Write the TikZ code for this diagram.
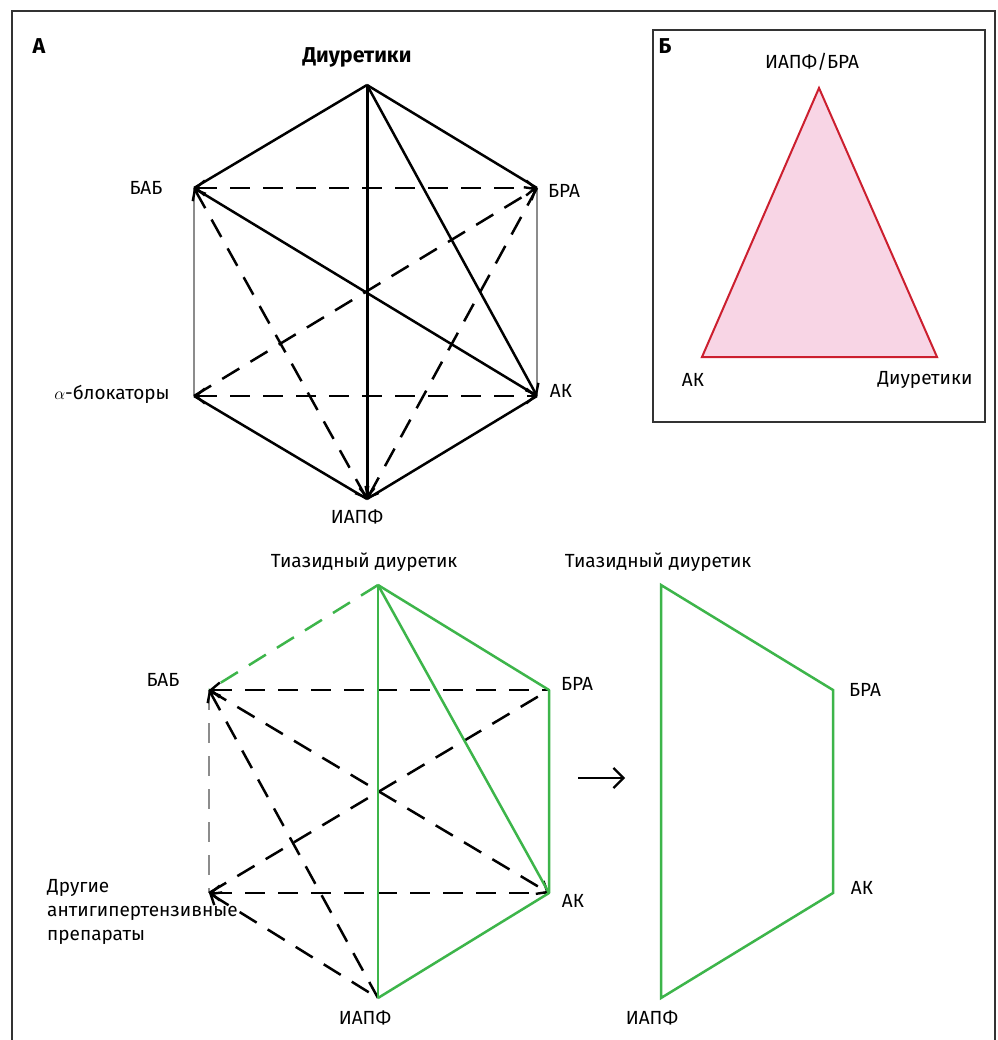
\documentclass[tikz,border=0pt]{standalone}
\usepackage{fontspec}
\setmainfont{Fira Sans}
\usetikzlibrary{arrows.meta}
\definecolor{grn}{HTML}{3DB54A}
\definecolor{redl}{HTML}{CC1F2F}
\definecolor{pinkf}{HTML}{F8D5E5}
\definecolor{gry}{HTML}{8C8C8C}
\definecolor{frm}{HTML}{333333}
\begin{document}
\begin{tikzpicture}[x=1pt,y=-1pt,
  ln/.style={line width=2.5pt, line join=round, line cap=butt},
  dsh/.style={ln, dash pattern=on 20pt off 13pt},
  tipa/.style={-{Straight Barb[length=9pt,width=15pt,line width=2.4pt]}},
  tipb/.style={{Straight Barb[length=9pt,width=15pt,line width=2.4pt]}-},
  tipab/.style={{Straight Barb[length=9pt,width=15pt,line width=2.4pt]}-{Straight Barb[length=9pt,width=15pt,line width=2.4pt]}},
  lbl/.style={font=\fontsize{19}{24}\selectfont, inner sep=0pt},
  bold/.style={font=\fontsize{21.5}{24}\selectfont\bfseries, inner sep=0pt}]
\useasboundingbox (0,0) rectangle (997,1040);
\fill[white] (0,0) rectangle (997,1040);
\draw[frm, line width=1.3pt] (12,11) rectangle (995,1060);

% ---------- Panel A top hexagon ----------
\coordinate (tD) at (367,85);
\coordinate (bab) at (194,188);
\coordinate (bra) at (537,188);
\coordinate (alf) at (194,396);
\coordinate (ak) at (537,396);
\coordinate (iapf) at (367,499);

\draw[ln, gry] (bab) -- (alf);
\draw[ln, gry] (bra) -- (ak);

\draw[dsh, tipab] (bab) -- (bra);
\draw[dsh, tipab] (alf) -- (ak);
\draw[dsh, tipab] (bab) -- (iapf);
\draw[dsh, tipa] (alf) -- (bra);
\draw[dsh, tipa] (bra) -- (iapf);

\draw[ln] (tD) -- (bab);
\draw[ln] (tD) -- (bra);
\draw[ln] (alf) -- (iapf);
\draw[ln] (ak) -- (iapf);
\draw[ln] (bab) -- (ak);
\draw[ln, tipa] (tD) -- (ak);
\draw[ln, line width=3pt, tipa] (tD) -- (iapf);

\node[bold] (lA) at (39,46) {А};
\node[bold] (ltD) at (357,57) {Диуретики};
\node[lbl] (lbab) at (146,188) {БАБ};
\node[lbl] (lbra) at (564,191) {БРА};
\node[lbl] (lalf) at (112,394) {$\alpha$-блокаторы};
\node[lbl] (lak) at (561,391) {АК};
\node[lbl] (liapf) at (357,517) {ИАПФ};

% ---------- Panel B ----------
\draw[frm, line width=1.3pt] (653,30) rectangle (985,422);
\coordinate (bt) at (819,88);
\coordinate (bl) at (702,357);
\coordinate (br) at (937,357);
\draw[redl, fill=pinkf, line width=2pt, line join=miter] (bt) -- (bl) -- (br) -- cycle;
\node[bold] (lB) at (665,46) {Б};
\node[lbl] (lbt) at (812,62) {ИАПФ/БРА};
\node[lbl] (lbl) at (693,380) {АК};
\node[lbl] (lbr) at (925,380) {Диуретики};

% ---------- Bottom hexagon ----------
\coordinate (t2) at (378,585);
\coordinate (bab2) at (209,690);
\coordinate (bra2) at (549,690);
\coordinate (oth) at (209,893);
\coordinate (ak2) at (549,893);
\coordinate (iapf2) at (378,998);

\draw[dsh, gry] (bab2) -- (oth);
\draw[dsh, grn] (t2) -- (bab2);

\draw[dsh, tipb] (bab2) -- (bra2);
\draw[dsh, tipa] (bab2) -- (ak2);
\draw[dsh, tipb] (bab2) -- (iapf2);
\draw[dsh] (oth) -- (bra2);
\draw[dsh, tipb] (oth) -- (ak2);
\draw[dsh, tipb] (oth) -- (iapf2);

\draw[ln, grn] (t2) -- (iapf2);
\draw[ln, grn] (t2) -- (ak2);
\draw[ln, grn] (t2) -- (bra2) -- (ak2) -- (iapf2);

\node[lbl] (lt2) at (364,562) {Тиазидный диуретик};
\node[lbl] (lbab2) at (163,680) {БАБ};
\node[lbl] (lbra2) at (577,684) {БРА};
\node[lbl, align=left, anchor=north west, font=\fontsize{19}{24}\selectfont] (loth) at (47,879) {Другие\\антигипертензивные\\препараты};
\node[lbl] (lak2) at (573,901) {АК};
\node[lbl] (liapf2) at (365,1018) {ИАПФ};

% ---------- arrow ----------
\coordinate (arS) at (578,778);
\coordinate (arE) at (625,778);
\draw[line width=2.2pt, -{Straight Barb[length=10pt,width=20pt,line width=2.2pt]}] (arS) -- (arE);

% ---------- Trapezoid ----------
\coordinate (q1) at (661,585);
\coordinate (q2) at (833,690);
\coordinate (q3) at (833,893);
\coordinate (q4) at (661,998);
\draw[ln, grn, line join=miter] (q1) -- (q2) -- (q3) -- (q4) -- cycle;
\node[lbl] (lq1) at (658,562) {Тиазидный диуретик};
\node[lbl] (lq2) at (865,690) {БРА};
\node[lbl] (lq3) at (862,888) {АК};
\node[lbl] (lq4) at (652,1018) {ИАПФ};
\end{tikzpicture}
\end{document}
